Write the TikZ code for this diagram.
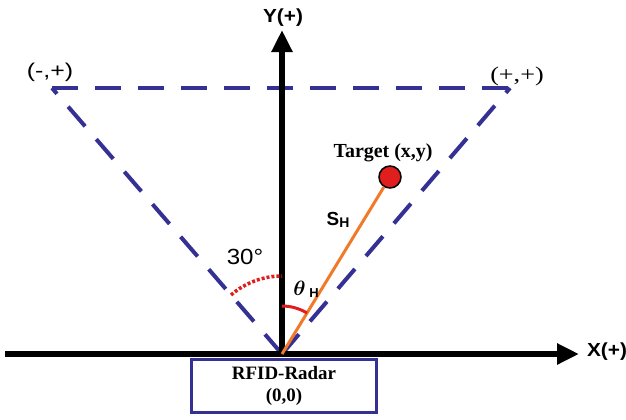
\documentclass[tikz,border=0pt]{standalone}
\usepackage{amsmath,amssymb,bm}
\usepackage{fontspec}
\setmainfont{Liberation Serif}
\setsansfont{Liberation Sans}
\usetikzlibrary{arrows.meta, calc}

\definecolor{fovblue}{RGB}{52,48,148}
\definecolor{rangeorange}{RGB}{240,122,40}
\definecolor{arcred}{RGB}{225,30,30}

\begin{document}
\begin{tikzpicture}[
    x=1bp, y=1bp,
    >={Triangle[length=22bp, width=20bp]},
    axis/.style={->, line width=6bp, black},
    fov/.style={line width=4bp, draw=fovblue, dash pattern=on 26bp off 17bp},
    path/.style={line width=3bp, draw=rangeorange},
    angarc/.style={line width=3bp, draw=arcred},
    sidelbl/.style={font=\fontsize{20}{22}\selectfont\sffamily},
    axlbl/.style={font=\fontsize{19}{21}\selectfont\sffamily\bfseries},
    radarbox/.style={draw=fovblue, line width=3.5bp, minimum width=185bp,
                     minimum height=53bp, align=center, inner sep=0pt,
                     font=\fontsize{19}{21}\selectfont\bfseries},
    tgt/.style={circle, draw=black, line width=1.5bp, fill=arcred,
                minimum size=22bp, inner sep=0pt},
]
\useasboundingbox (0,0) rectangle (626,419);

% Points
\coordinate (O)  at (282,65);
\coordinate (Xs) at (5,65);
\coordinate (Xe) at (579,65);
\coordinate (Ye) at (282,389);
\coordinate (L)  at (52,331);
\coordinate (R)  at (510,331);

% Field of view
\draw[fov] (O) -- (L);
\draw[fov] (O) -- (R);
\draw[fov] (L) -- (R);

% Axes
\draw[axis] (Xs) -- (Xe);
\draw[axis] (O) -- (Ye);

% Target and range
\node[tgt] (target) at (390,242) {};
\draw[path] (O) -- (target);

% Angles
\draw[angarc] ($(O)+(0,48)$) arc[start angle=90, end angle=58.6, radius=48];
\draw[angarc, dotted, line width=3.5bp] ($(O)+(130.8:78)$) arc[start angle=130.8, end angle=90, radius=78];

% Labels
\node[axlbl]  (ylbl) at (283,401) {\scalebox{1.1}[1]{Y(+)}};
\node[axlbl]  (xlbl) at (607,67)  {\scalebox{1.1}[1]{X(+)}};
\node[sidelbl] (neg) at (50,347)  {\scalebox{1.25}[1]{(-,+)}};
\node[font=\fontsize{21}{23}\selectfont] (pos) at (517,343) {\scalebox{1.25}[1]{(+,+)}};
\node[font=\fontsize{20}{22}\selectfont\bfseries] (tlbl) at (383,266) {Target (x,y)};
\node[font=\fontsize{19}{21}\selectfont\sffamily\bfseries] (slbl) at (338,199)
    {S\raisebox{-0.15ex}{\fontsize{14}{16}\selectfont H}};
\node[font=\fontsize{22}{24}\selectfont] (thlbl) at (306,130)
    {$\bm{\theta}$\,\raisebox{-0.2ex}{\fontsize{13}{15}\selectfont\sffamily\bfseries H}};
\node[font=\fontsize{22}{24}\selectfont\sffamily] (alpha) at (245,162) {\scalebox{1.1}[1]{30°}};

% Radar
\node[radarbox] (radar) at (284,33) {RFID-Radar\\[1bp](0,0)};

\end{tikzpicture}
\end{document}
